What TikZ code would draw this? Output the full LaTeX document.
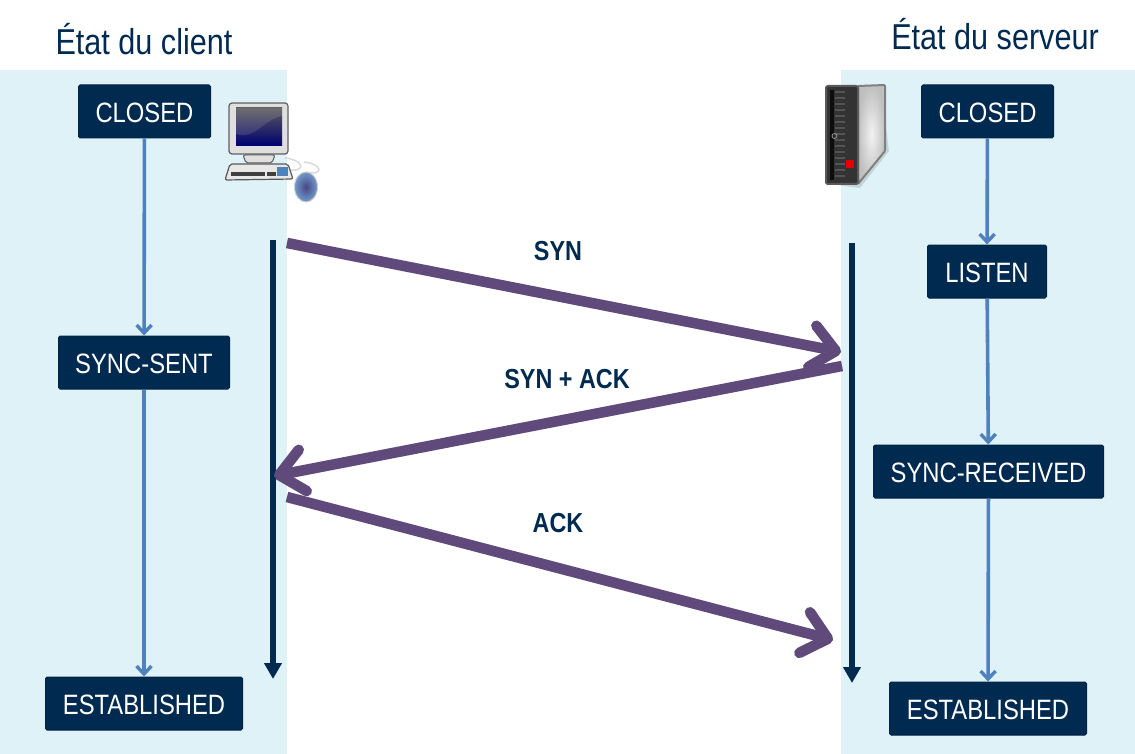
\documentclass[tikz,border=0pt]{standalone}
\usepackage{fontspec}
\setmainfont[FakeStretch=0.85]{Liberation Sans}
\usetikzlibrary{arrows.meta}
\definecolor{panelblue}{HTML}{DFF2F8}
\definecolor{boxnavy}{HTML}{002A50}
\definecolor{linkblue}{HTML}{4F81BD}
\definecolor{msgpurple}{HTML}{604A7B}
\tikzset{
	state/.style={draw=boxnavy!85!black,fill=boxnavy,text=white,rounded corners=1.5pt,line width=1pt,inner sep=0pt,minimum height=53pt,text height=22pt,text depth=0pt,font=\fontsize{28}{30}\selectfont},
	title/.style={text=boxnavy,inner sep=0pt,font=\fontsize{36}{38}\selectfont},
	msglabel/.style={text=boxnavy,inner sep=0pt,font=\fontsize{27.5}{29}\selectfont\bfseries},
	trans/.style={draw=linkblue,line width=3.6pt,-{Straight Barb[length=8pt,width=15pt,line width=3.4pt]}},
	timeline/.style={draw=boxnavy,line width=5.5pt,-{Triangle[length=16pt,width=17pt]}},
	msg/.style={draw=msgpurple,line width=10.5pt,-{Straight Barb[length=24pt,width=42pt,round,line width=10.5pt]}},
	msgshadow/.style={draw=black,opacity=0.13,line width=10.5pt,-{Straight Barb[length=24pt,width=42pt,round,line width=10.5pt]}},
}
\begin{document}
\begin{tikzpicture}[x=1pt,y=-1pt]
	\useasboundingbox (0,0) rectangle (1135,754);
	\fill [panelblue] (0,70) rectangle (287,754);
	\fill [panelblue] (841,70) rectangle (1135,754);

	% titles
	\node [title] (clienttitle) at (144,39.5) {État du client};
	\node [title] (servertitle) at (995,34) {État du serveur};

	% client states
	\node [state,minimum width=132pt] (cclosed) at (144.5,111.5) {CLOSED};
	\node [state,minimum width=171pt] (csent) at (144,362.5) {SYNC-SENT};
	\node [state,minimum width=197pt] (cestab) at (144,703.5) {ESTABLISHED};
	\draw [trans] (cclosed) -- (csent);
	\draw [trans] (csent) -- (cestab);

	% server states
	\node [state,minimum width=132pt] (sclosed) at (987.5,111.5) {CLOSED};
	\node [state,minimum width=119pt] (slisten) at (987,271.5) {LISTEN};
	\node [state,minimum width=230pt] (sreceived) at (988.5,471.5) {SYNC-RECEIVED};
	\node [state,minimum width=197pt] (sestab) at (988,708.5) {ESTABLISHED};
	\draw [trans] (sclosed) -- (slisten);
	\draw [trans] (slisten) -- (sreceived);
	\draw [trans] (sreceived) -- (sestab);

	% time lines
	\coordinate (ctop) at (273,240);
	\coordinate (cbot) at (273,679);
	\coordinate (stop) at (852,243);
	\coordinate (sbot) at (852,683);
	\draw [timeline] (ctop) -- (cbot);
	\draw [timeline] (stop) -- (sbot);

	% messages
	\coordinate (synA) at (287,243);
	\coordinate (synB) at (841,352);
	\coordinate (ackA) at (842,366);
	\coordinate (ackB) at (274,476);
	\coordinate (finA) at (287,497);
	\coordinate (finB) at (833,640);
	\begin{scope}[shift={(2,4)}]
		\draw [msgshadow] (synA) -- (synB);
		\draw [msgshadow] (ackA) -- (ackB);
		\draw [msgshadow] (finA) -- (finB);
	\end{scope}
	\draw [msg] (synA) -- (synB);
	\draw [msg] (ackA) -- (ackB);
	\draw [msg] (finA) -- (finB);
	\node [msglabel] (synlabel) at (558,251) {SYN};
	\node [msglabel] (acklabel) at (567,379) {SYN + ACK};
	\node [msglabel] (finlabel) at (558,523) {ACK};

	% computer
	\draw [gray!30,line width=1.5pt] (285,158) .. controls (304,160) and (306,172) .. (290,170);
	\draw [gray!30,line width=1.5pt] (304,162) .. controls (322,164) and (325,176) .. (306,172);
	\fill [gray!25,draw=gray!70!black,line width=1pt,rounded corners=2pt] (243,155) -- (275,155) -- (272,163) -- (246,163) -- cycle;
	\fill [gray!25,draw=gray!75!black,line width=1.2pt,rounded corners=3pt] (229,103) rectangle (288,154);
	\shade [top color=gray!70!black,bottom color=blue!45!black] (236,108) rectangle (282,146);
	\fill [white,opacity=0.12] (236,108) -- (282,108) -- (282,116) .. controls (262,120) and (256,140) .. (236,134) -- cycle;
	\fill [gray!18,draw=gray!70!black,line width=1.2pt,rounded corners=2pt] (225,180) -- (230,164) -- (288,164) -- (293,179) -- cycle;
	\fill [black!75] (231,172) rectangle (265,176);
	\fill [black!75] (267,172) rectangle (276,176);
	\fill [linkblue] (277,167) rectangle (288,176);
	\shade [inner color=blue!30!gray!80!black,outer color=linkblue!80,draw=gray!40,line width=1pt] (306,187) ellipse [x radius=11.5pt,y radius=15pt];

	% server
	\fill [black,opacity=0.12] (829,184) -- (860,188) -- (889,151) -- (885,120) -- cycle;
	\shade [draw=gray,line width=2pt,rounded corners=1pt,inner color=gray!10,outer color=gray!50] (858,86) -- (885,85) -- (885,151) -- (858,184) -- cycle;
	\fill [black!80,draw=gray!70!black,line width=2pt,rounded corners=2pt] (826,86) rectangle (858,184);
	\fill [black!95] (830,90) rectangle (834,180);
	\foreach \y in {92,98,...,176}
		\draw [gray!65!black,line width=1.4pt] (835,\y) -- (845,\y);
	\draw [gray!80,line width=.8pt] (834.5,136) circle [radius=2.5pt];
	\fill [red!90!black] (846,160) rectangle (854,168);
\end{tikzpicture}
\end{document}
